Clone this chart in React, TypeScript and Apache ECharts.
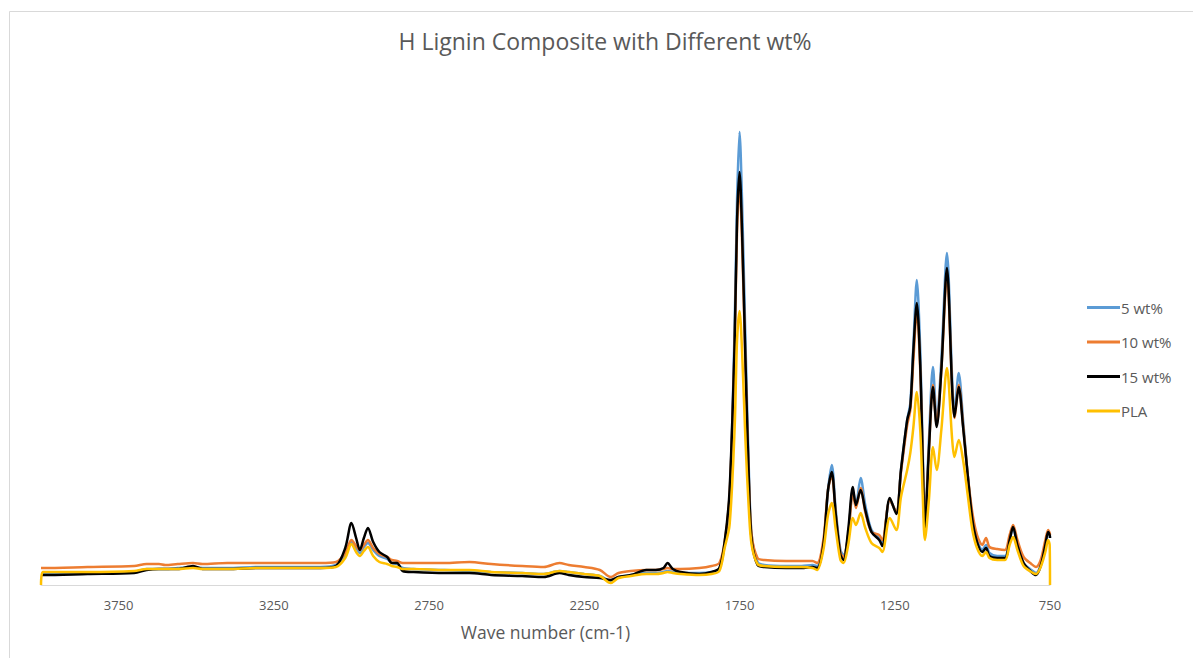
import React, { useEffect, useRef } from "react";
import * as echarts from "echarts";

// FTIR spectra (absorbance, arbitrary units) sampled at these wave numbers (cm-1)
const waveNumbers = [
  4000, 3994, 3850, 3700, 3660, 3620, 3600, 3560, 3510, 3480, 3400, 3300, 3200, 3100,
  3050, 3020, 3000, 2985, 2973, 2960, 2947, 2930, 2910, 2885, 2870, 2853, 2835, 2800,
  2700, 2620, 2550, 2450, 2380, 2330, 2300, 2250, 2200, 2165, 2140, 2100, 2050, 2020,
  1995, 1982, 1965, 1940, 1880, 1840, 1815, 1798, 1782, 1766, 1758, 1750, 1742, 1731,
  1720, 1711, 1692, 1670, 1600, 1550, 1515, 1500, 1480, 1465, 1453, 1440, 1425, 1415,
  1400, 1385, 1375, 1360, 1345, 1325, 1300, 1290, 1266, 1245, 1230, 1210, 1200, 1190,
  1179, 1168, 1160, 1153, 1140, 1127, 1115, 1100, 1082, 1065, 1058, 1044, 1030, 1015,
  1000, 985, 968, 956, 945, 920, 895, 880, 869, 855, 835, 810, 795, 780, 765, 756, 751, 750,
];

const wt5 = [
  11, 11, 12, 13, 16, 16, 16, 17, 18, 17, 17, 18, 18, 18,
  20, 29, 43, 37, 32, 38, 42, 35, 29, 26, 22, 21, 17, 16,
  15, 14, 13, 12, 11, 14, 13, 11, 9, 4, 8, 10, 12, 12,
  13, 14, 13, 12, 12, 13, 16, 40, 85, 255, 385, 453, 385, 245,
  115, 50, 23, 20, 19, 19, 20, 19, 40, 95, 120, 75, 35, 30,
  50, 95, 80, 107, 80, 55, 47, 42, 85, 73, 115, 165, 182, 240,
  305, 235, 135, 60, 145, 218, 165, 225, 332, 205, 173, 212, 165, 110,
  68, 45, 35, 40, 32, 29, 29, 45, 57, 40, 22, 15, 12, 20, 40, 53, 50, 47,
];

const wt10 = [
  17, 17, 18, 19, 21, 21, 20, 21, 22, 21, 22, 22, 22, 22,
  23, 32, 45, 39, 35, 40, 45, 37, 31, 28, 25, 24, 22, 22,
  22, 23, 21, 19, 18, 22, 20, 18, 15, 8, 12, 14, 15, 15,
  16, 17, 16, 16, 17, 19, 22, 43, 90, 235, 355, 400, 345, 220,
  105, 50, 27, 25, 24, 24, 24, 22, 45, 95, 110, 70, 32, 28,
  50, 92, 77, 97, 73, 53, 50, 45, 85, 73, 113, 160, 175, 225,
  275, 215, 125, 57, 135, 200, 160, 215, 310, 195, 167, 200, 160, 110,
  72, 50, 40, 47, 38, 36, 35, 50, 60, 45, 28, 21, 18, 25, 45, 55, 52, 50,
];

const wt15 = [
  10, 10, 11, 12, 15, 16, 16, 16, 19, 16, 16, 17, 17, 17,
  19, 37, 62, 47, 35, 47, 57, 43, 33, 28, 22, 22, 14, 13,
  12, 12, 10, 9, 8, 12, 10, 8, 7, 5, 8, 10, 15, 15,
  17, 22, 16, 13, 11, 13, 17, 43, 95, 240, 365, 413, 355, 225,
  105, 45, 20, 18, 17, 17, 18, 17, 40, 95, 113, 70, 30, 25,
  55, 98, 80, 95, 75, 53, 45, 39, 87, 71, 115, 165, 178, 235,
  282, 220, 125, 57, 135, 198, 158, 215, 317, 195, 168, 198, 158, 110,
  65, 43, 33, 37, 29, 27, 27, 45, 58, 40, 22, 13, 10, 19, 40, 53, 50, 47,
];

const pla = [
  0, 13, 13, 14, 16, 16, 16, 16, 17, 16, 16, 17, 17, 17,
  18, 27, 41, 33, 29, 34, 38, 29, 23, 21, 19, 18, 16, 16,
  15, 15, 13, 12, 11, 14, 13, 11, 9, 2, 7, 9, 11, 11,
  12, 13, 12, 11, 10, 11, 14, 37, 60, 155, 245, 274, 235, 145,
  75, 40, 21, 19, 18, 18, 17, 15, 35, 70, 82, 55, 25, 22,
  40, 67, 60, 72, 57, 42, 37, 33, 67, 55, 88, 115, 132, 158,
  193, 155, 90, 45, 85, 138, 115, 155, 217, 145, 128, 145, 125, 90,
  55, 37, 29, 33, 27, 25, 25, 40, 48, 35, 19, 13, 11, 18, 33, 45, 40, 0,
];

const seriesNames = ["5 wt%", "10 wt%", "15 wt%", "PLA"];
const seriesColors = ["#5b9bd5", "#ed7d31", "#000000", "#ffc000"];
const seriesValues = [wt5, wt10, wt15, pla];

const FONT = "'Open Sans', 'Noto Sans', sans-serif";
const GRAY = "#595959";

export default function App() {
  const ref = useRef<HTMLDivElement>(null);

  useEffect(() => {
    if (!ref.current) return;
    const chart = echarts.init(ref.current, null, { renderer: "svg" });
    chart.setOption({
      animation: false,
      backgroundColor: "#ffffff",
      textStyle: { fontFamily: FONT },
      title: {
        text: "H Lignin Composite with Different wt%",
        left: 600,
        textAlign: "center",
        top: 24,
        textStyle: { fontFamily: FONT, fontSize: 23, fontWeight: "normal", color: GRAY },
      },
      legend: {
        orient: "vertical",
        left: 1087,
        top: 300,
        padding: 0,
        icon: "rect",
        itemWidth: 33,
        itemHeight: 3,
        itemGap: 19.5,
        data: seriesNames,
        textStyle: {
          fontFamily: FONT,
          fontSize: 15,
          lineHeight: 15,
          color: GRAY,
          padding: [0, 0, 0, -4],
        },
      },
      graphic: [
        {
          type: "rect",
          left: 7,
          top: 9,
          shape: { width: 1200, height: 660 },
          style: { fill: "none", stroke: "#d9d9d9", lineWidth: 1 },
          silent: true,
        },
      ],
      grid: { left: 41, right: 143, top: 105, bottom: 73 },
      xAxis: {
        type: "value",
        inverse: true,
        min: 750,
        max: 4000,
        interval: 500,
        name: "Wave number (cm-1)",
        nameLocation: "middle",
        nameGap: 38,
        nameTextStyle: { fontFamily: FONT, fontSize: 17.5, color: GRAY },
        axisLine: { show: true, lineStyle: { color: "#d9d9d9", width: 1 } },
        axisTick: { show: false },
        splitLine: { show: false },
        axisLabel: {
          showMaxLabel: false,
          margin: 13,
          fontFamily: FONT,
          fontSize: 13,
          color: GRAY,
          formatter: (v: number) => String(v),
        },
      },
      yAxis: {
        type: "value",
        min: 0,
        max: 480,
        show: false,
        splitLine: { show: false },
      },
      series: seriesNames.map((name, i) => ({
        name,
        type: "line",
        symbol: "none",
        smooth: 0.3,
        color: seriesColors[i],
        lineStyle: { color: seriesColors[i], width: 2.5 },
        data: waveNumbers.map((wn, j) => [wn, seriesValues[i][j]]),
      })),
    });
    return () => chart.dispose();
  }, []);

  return (
    <div
      ref={ref}
      style={{ position: "fixed", left: 0, top: 0, width: 1193, height: 658 }}
    />
  );
}
